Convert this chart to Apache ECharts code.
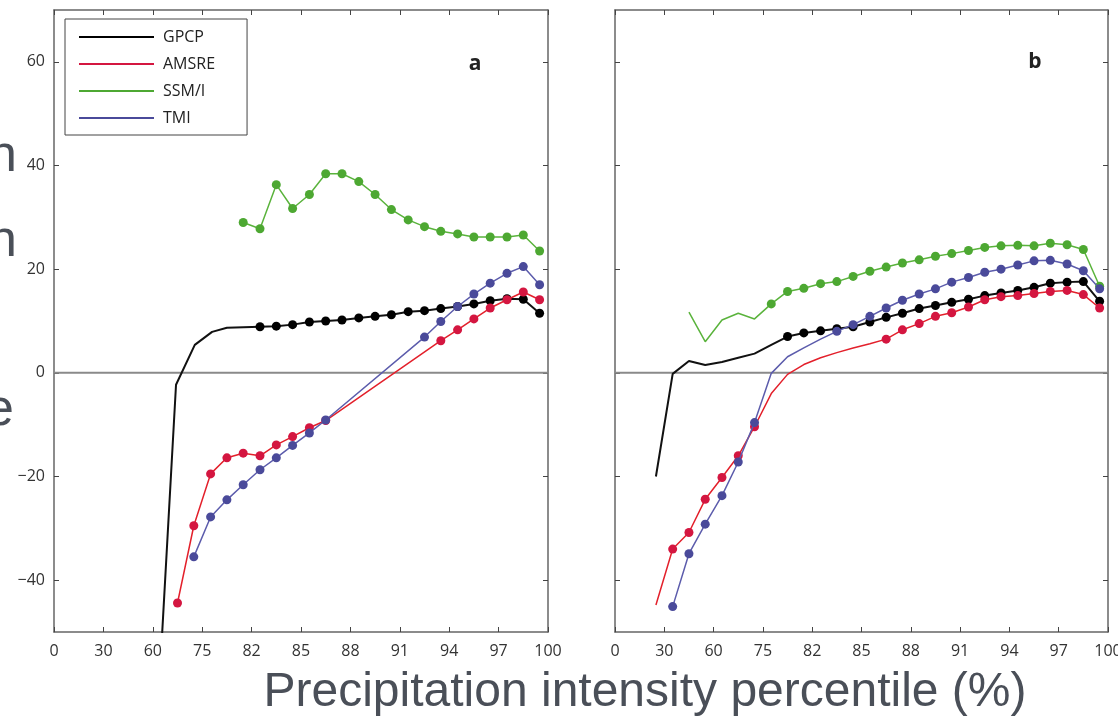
<!DOCTYPE html>
<html>
<head>
<meta charset="utf-8">
<script src="https://cdn.jsdelivr.net/npm/echarts@6/dist/echarts.min.js"></script>
<style>
html, body { margin: 0; padding: 0; background: #fff; }
#chart { width: 1118px; height: 726px; }
</style>
</head>
<body>
<div id="chart"></div>
<script>
// x axis is an even-spaced percentile scale: positions 0..10 carry these labels
var xLabels = ['0', '30', '60', '75', '82', '85', '88', '91', '94', '97', '100'];
var yTicks = [-40, -20, 0, 20, 40, 60];
var seriesNames = ['GPCP', 'AMSRE', 'SSM/I', 'TMI'];

// panel a
var gpcpA_x = [2.15, 2.47, 2.85, 3.2, 3.5, 4.17, 4.5, 4.83, 5.17, 5.5, 5.83, 6.17, 6.5, 6.83, 7.17, 7.5, 7.83, 8.17, 8.5, 8.83, 9.17, 9.5, 9.83];
var gpcpA_y = [-57, -2.3, 5.4, 7.9, 8.7, 8.9, 9.0, 9.3, 9.8, 10.0, 10.2, 10.6, 10.9, 11.2, 11.8, 12.0, 12.4, 12.8, 13.3, 13.9, 14.3, 14.2, 11.5];
var amsreA_x = [2.5, 2.83, 3.17, 3.5, 3.83, 4.17, 4.5, 4.83, 5.17, 5.5, 7.83, 8.17, 8.5, 8.83, 9.17, 9.5, 9.83];
var amsreA_y = [-44.4, -29.5, -19.5, -16.4, -15.5, -16.0, -13.9, -12.3, -10.6, -9.2, 6.2, 8.3, 10.4, 12.5, 14.1, 15.6, 14.1];
var ssmiA_x = [3.83, 4.17, 4.5, 4.83, 5.17, 5.5, 5.83, 6.17, 6.5, 6.83, 7.17, 7.5, 7.83, 8.17, 8.5, 8.83, 9.17, 9.5, 9.83];
var ssmiA_y = [29.0, 27.8, 36.3, 31.7, 34.4, 38.4, 38.4, 36.9, 34.4, 31.5, 29.5, 28.2, 27.3, 26.8, 26.2, 26.2, 26.2, 26.6, 23.5];
var tmiA_x = [2.83, 3.17, 3.5, 3.83, 4.17, 4.5, 4.83, 5.17, 5.5, 7.5, 7.83, 8.17, 8.5, 8.83, 9.17, 9.5, 9.83];
var tmiA_y = [-35.5, -27.8, -24.5, -21.6, -18.7, -16.4, -14.0, -11.6, -9.1, 6.9, 9.9, 12.8, 15.2, 17.3, 19.2, 20.5, 17.0];

// panel b
var gpcpB_x = [0.83, 1.17, 1.5, 1.83, 2.17, 2.5, 2.83, 3.17, 3.5, 3.83, 4.17, 4.5, 4.83, 5.17, 5.5, 5.83, 6.17, 6.5, 6.83, 7.17, 7.5, 7.83, 8.17, 8.5, 8.83, 9.17, 9.5, 9.83];
var gpcpB_y = [-20, -0.2, 2.3, 1.5, 2.1, 2.9, 3.7, 5.4, 7.0, 7.7, 8.1, 8.5, 8.9, 9.8, 10.7, 11.5, 12.4, 13.0, 13.6, 14.2, 14.9, 15.4, 15.9, 16.5, 17.3, 17.5, 17.6, 13.8];
var amsreB_x = [0.83, 1.17, 1.5, 1.83, 2.17, 2.5, 2.83, 3.17, 3.5, 3.83, 4.17, 4.5, 4.83, 5.17, 5.5, 5.83, 6.17, 6.5, 6.83, 7.17, 7.5, 7.83, 8.17, 8.5, 8.83, 9.17, 9.5, 9.83];
var amsreB_y = [-44.8, -34.0, -30.8, -24.4, -20.2, -16.0, -10.4, -4.0, -0.3, 1.6, 2.9, 3.9, 4.8, 5.6, 6.5, 8.3, 9.5, 10.9, 11.6, 12.7, 14.1, 14.7, 14.9, 15.3, 15.7, 15.9, 15.1, 12.5];
var ssmiB_x = [1.5, 1.83, 2.17, 2.5, 2.83, 3.17, 3.5, 3.83, 4.17, 4.5, 4.83, 5.17, 5.5, 5.83, 6.17, 6.5, 6.83, 7.17, 7.5, 7.83, 8.17, 8.5, 8.83, 9.17, 9.5, 9.83];
var ssmiB_y = [11.7, 6.0, 10.2, 11.5, 10.4, 13.3, 15.7, 16.3, 17.2, 17.6, 18.6, 19.6, 20.4, 21.2, 21.8, 22.5, 23.0, 23.6, 24.2, 24.5, 24.6, 24.5, 25.0, 24.7, 23.8, 16.7];
var tmiB_x = [1.17, 1.5, 1.83, 2.17, 2.5, 2.83, 3.17, 3.5, 3.83, 4.17, 4.5, 4.83, 5.17, 5.5, 5.83, 6.17, 6.5, 6.83, 7.17, 7.5, 7.83, 8.17, 8.5, 8.83, 9.17, 9.5, 9.83];
var tmiB_y = [-45.1, -34.9, -29.2, -23.7, -17.2, -9.6, -0.1, 3.1, 4.8, 6.5, 8.0, 9.3, 10.9, 12.5, 14.0, 15.2, 16.2, 17.5, 18.4, 19.4, 20.0, 20.8, 21.6, 21.7, 21.0, 19.7, 16.2];

var lineColors = ['#111111', '#e3202b', '#5ab33c', '#5c5cac'];
var dotColors = ['#000000', '#d41640', '#4da832', '#4a4a9a'];
var font = 'Open Sans';

// build points; only indices inside the ranges get a dot
function pts(xs, ys, ranges) {
    return xs.map(function(x, i) {
        var on = !ranges || ranges.some(function(r) { return i >= r[0] && i <= r[1]; });
        return on ? { value: [x, ys[i]] } : { value: [x, ys[i]], symbol: 'none' };
    });
}

function line(k, panel, data) {
    return {
        name: seriesNames[k],
        type: 'line',
        xAxisIndex: panel * 2,
        yAxisIndex: panel * 2,
        data: data,
        symbol: 'circle',
        symbolSize: 9,
        showAllSymbol: true,
        lineStyle: { color: lineColors[k], width: k === 0 ? 2 : 1.5 },
        itemStyle: { color: dotColors[k] },
        z: 3 + k
    };
}

function zeroLine(panel) {
    return {
        type: 'line', xAxisIndex: panel * 2, yAxisIndex: panel * 2,
        data: [[0, 0], [10, 0]], symbol: 'none', silent: true, z: 1,
        lineStyle: { color: '#8a8a8a', width: 2 }
    };
}

function xAx(grid, pos) {
    return {
        type: 'value', gridIndex: grid, position: pos, min: 0, max: 10, interval: 1,
        axisLine: { onZero: false, lineStyle: { color: '#666', width: 1.5 } },
        axisTick: { inside: true, length: 5, lineStyle: { color: '#444' } },
        axisLabel: {
            show: pos === 'bottom', margin: 11, fontSize: 16, color: '#333', fontFamily: font,
            hideOverlap: false,
            formatter: function(v) { return xLabels[Math.round(v)]; }
        },
        splitLine: { show: false }
    };
}

function yAx(grid, pos, labels) {
    return {
        type: 'value', gridIndex: grid, position: pos, min: -50, max: 70,
        axisLine: { onZero: false, lineStyle: { color: '#666', width: 1.5 } },
        axisTick: { inside: true, length: 5, customValues: yTicks, lineStyle: { color: '#444' } },
        axisLabel: {
            show: labels, customValues: yTicks, margin: 9, fontSize: 16, color: '#333', fontFamily: font,
            formatter: function(v) { return String(v).replace('-', '\u2212'); }
        },
        splitLine: { show: false }
    };
}

var chart = echarts.init(document.getElementById('chart'));
chart.setOption({
    animation: false,
    backgroundColor: '#fff',
    grid: [
        { left: 54, top: 10, width: 494, height: 622, outerBoundsMode: 'none' },
        { left: 615, top: 10, width: 493, height: 622, outerBoundsMode: 'none' }
    ],
    xAxis: [xAx(0, 'bottom'), xAx(0, 'top'), xAx(1, 'bottom'), xAx(1, 'top')],
    yAxis: [yAx(0, 'left', true), yAx(0, 'right', false), yAx(1, 'left', false), yAx(1, 'right', false)],
    legend: {
        left: 65, top: 19, orient: 'vertical',
        borderColor: '#444', borderWidth: 1,
        padding: [10, 32, 9, 14], itemGap: 11,
        itemWidth: 75, itemHeight: 2, icon: 'rect',
        textStyle: { fontSize: 16, color: '#222', fontFamily: font, padding: [0, 0, 0, 4] },
        data: seriesNames
    },
    graphic: [
        { type: 'text', x: 475, y: 64, style: { text: 'a', fontSize: 21, fontWeight: 'bold', fontFamily: font, fill: '#222', align: 'center', verticalAlign: 'middle', textAlign: 'center', textVerticalAlign: 'middle' } },
        { type: 'text', x: 1035, y: 62, style: { text: 'b', fontSize: 21, fontWeight: 'bold', fontFamily: font, fill: '#222', align: 'center', verticalAlign: 'middle', textAlign: 'center', textVerticalAlign: 'middle' } },
        { type: 'text', x: 645, y: 693, style: { text: 'Precipitation intensity percentile (%)', fontSize: 48, fontFamily: 'Liberation Sans', fill: '#4a4f58', align: 'center', verticalAlign: 'middle', textAlign: 'center', textVerticalAlign: 'middle' } },
        // ends of slide text lines cut off at the left edge
        { type: 'text', x: 17, y: 157, style: { text: 'n', fontSize: 52, fontFamily: 'Liberation Sans', fill: '#4a4f58', align: 'right', verticalAlign: 'middle', textAlign: 'right', textVerticalAlign: 'middle' } },
        { type: 'text', x: 17, y: 242, style: { text: 'n', fontSize: 52, fontFamily: 'Liberation Sans', fill: '#4a4f58', align: 'right', verticalAlign: 'middle', textAlign: 'right', textVerticalAlign: 'middle' } },
        { type: 'text', x: 14, y: 411, style: { text: 'e', fontSize: 52, fontFamily: 'Liberation Sans', fill: '#4a4f58', align: 'right', verticalAlign: 'middle', textAlign: 'right', textVerticalAlign: 'middle' } }
    ],
    series: [
        zeroLine(0),
        zeroLine(1),
        line(0, 0, pts(gpcpA_x, gpcpA_y, [[5, 22]])),
        line(1, 0, pts(amsreA_x, amsreA_y)),
        line(2, 0, pts(ssmiA_x, ssmiA_y)),
        line(3, 0, pts(tmiA_x, tmiA_y)),
        line(0, 1, pts(gpcpB_x, gpcpB_y, [[8, 27]])),
        line(1, 1, pts(amsreB_x, amsreB_y, [[1, 6], [14, 27]])),
        line(2, 1, pts(ssmiB_x, ssmiB_y, [[5, 25]])),
        line(3, 1, pts(tmiB_x, tmiB_y, [[0, 5], [10, 26]]))
    ]
});
</script>
</body>
</html>
